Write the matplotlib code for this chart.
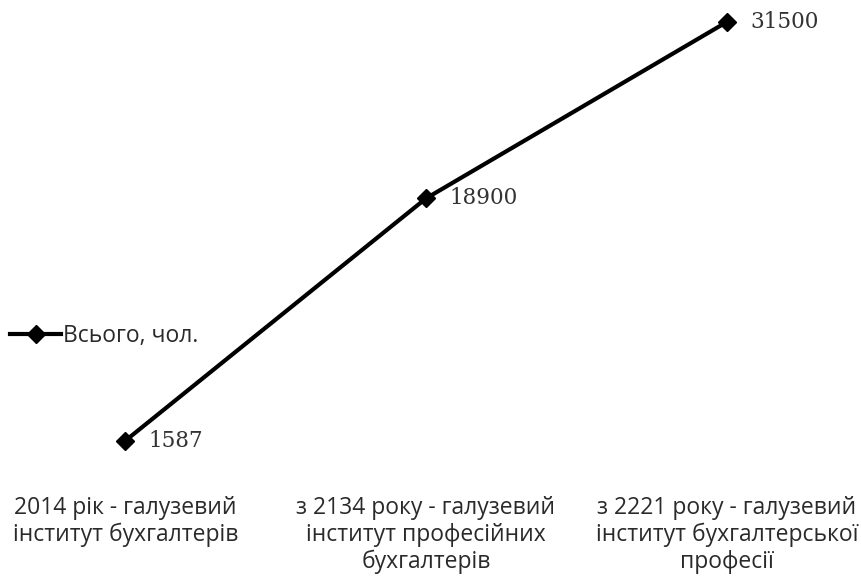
import matplotlib.pyplot as plt

categories = ['2014 рік - галузевий\nінститут бухгалтерів',
              'з 2134 року - галузевий\nінститут професійних\nбухгалтерів',
              'з 2221 року - галузевий\nінститут бухгалтерської\nпрофесії']
values = [1587, 18900, 31500]
series_name = 'Всього, чол.'

plt.rcParams['font.family'] = ['Open Sans', 'DejaVu Sans']

fig = plt.figure(figsize=(8.62, 5.83), dpi=100)
ax = fig.add_axes([20 / 862, 120 / 583, 812 / 862, 441 / 583])

x = list(range(len(values)))
ax.plot(x, values, color='black', linewidth=3, marker='D', markersize=9,
        label=series_name, clip_on=False)

for xi, v in zip(x, values):
    ax.annotate(str(v), (xi, v), xytext=(17, 0), textcoords='offset points',
                va='center', ha='left', fontsize=15.5, family='DejaVu Serif',
                color='#333333')

ax.set_xlim(-0.35, 2.35)
ax.set_ylim(0, 31500)
ax.set_xticks(x)
ax.set_xticklabels(categories, fontsize=16.5, color='#2a2a2a', linespacing=1.15, va='top')
ax.tick_params(axis='x', length=0, pad=24)
ax.set_yticks([])
for s in ax.spines.values():
    s.set_visible(False)

fig.legend(loc='center left', bbox_to_anchor=(0.012, 1 - 336 / 583), frameon=False,
           fontsize=16.5, handlelength=2.2, handletextpad=0.1, borderaxespad=0,
           borderpad=0, labelcolor='#2a2a2a')

fig.savefig('out.png', dpi=100)
